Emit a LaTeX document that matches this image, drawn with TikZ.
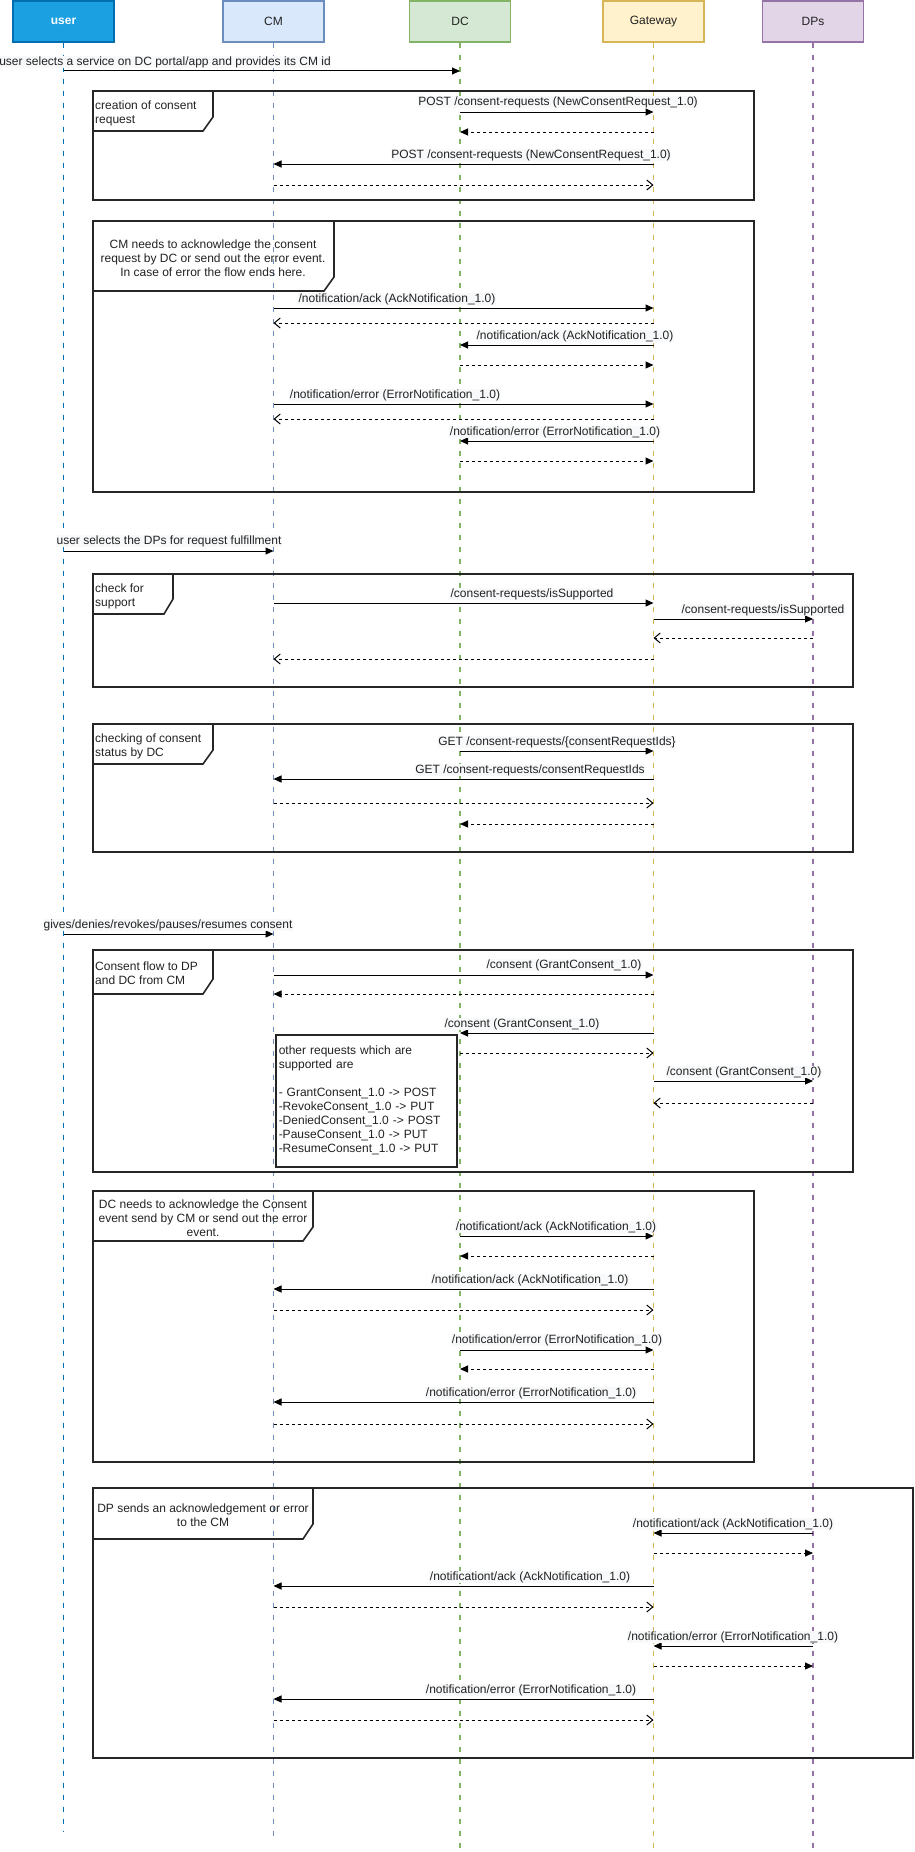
\documentclass[tikz,border=0pt]{standalone}
\usepackage{fontspec}
\setmainfont{Liberation Sans}
\usetikzlibrary{arrows.meta}

\definecolor{userfill}{HTML}{1BA1E2}
\definecolor{userline}{HTML}{006EAF}
\definecolor{cmfill}{HTML}{DAE8FC}
\definecolor{cmline}{HTML}{6C8EBF}
\definecolor{dcfill}{HTML}{D5E8D4}
\definecolor{dcline}{HTML}{82B366}
\definecolor{gwfill}{HTML}{FFF2CC}
\definecolor{gwline}{HTML}{D6B656}
\definecolor{dpfill}{HTML}{E1D5E7}
\definecolor{dpline}{HTML}{9673A6}
\definecolor{labelbg}{HTML}{F8F9FA}
\definecolor{ink}{HTML}{222222}

% one message between two lifelines at height #4
\newcommand\sqmsg[4]{\draw[#1] (#2 |- 0,#4) -- (#3 |- 0,#4);}
% one sequence frame: left, top, right, bottom, tab right, tab cut x, tab cut y, tab bottom
\newcommand\sqframe[8]{%
  \draw[frameline] (#1,#2) rectangle (#3,#4);
  \draw[frameline] (#1,#8) -- (#6,#8) -- (#5,#7) -- (#5,#2);}

\begin{document}
\begin{tikzpicture}[x=1pt,y=-1pt,
  txt/.style={font=\fontsize{12}{14}\selectfont, text=ink},
  head/.style={draw, line width=1.2pt, minimum width=101pt, minimum height=41pt, inner sep=0pt, txt},
  life/.style={line width=1.6pt, dash pattern=on 5pt off 7pt},
  call/.style={line width=1pt, -{Triangle[length=8pt,width=7pt]}},
  reply/.style={line width=1pt, dash pattern=on 3pt off 3pt, -{Straight Barb[length=6pt,width=10pt]}},
  replyb/.style={line width=1pt, dash pattern=on 3pt off 3pt, -{Triangle[length=8pt,width=7pt]}},
  lbl/.style={txt, fill=labelbg, inner sep=0.5pt, text height=9pt, text depth=2.5pt},
  frameline/.style={line width=1.6pt, black!85},
  tab/.style={txt, inner sep=0pt},
]
\useasboundingbox (0,0) rectangle (915,1852);

% participants
\node[head, fill=userfill, draw=userline, text=white, font=\fontsize{12}{14}\selectfont\bfseries] (user) at (63.5,21.5) {user};
\node[head, fill=cmfill, draw=cmline] (cm) at (273.5,21.5) {CM};
\node[head, fill=dcfill, draw=dcline] (dc) at (460,21.5) {DC};
\node[head, fill=gwfill, draw=gwline] (gw) at (653.5,21.5) {Gateway};
\node[head, fill=dpfill, draw=dpline] (dp) at (813,21.5) {DPs};

% lifelines
\coordinate (userend) at (user |- 0,1831);
\coordinate (cmend) at (cm |- 0,1836);
\coordinate (dcend) at (dc |- 0,1852);
\coordinate (gwend) at (gw |- 0,1852);
\coordinate (dpend) at (dp |- 0,1852);
\draw[life, userline] (user.south) -- (userend);
\draw[life, cmline] (cm.south) -- (cmend);
\draw[life, dcline] (dc.south) -- (dcend);
\draw[life, gwline] (gw.south) -- (gwend);
\draw[life, dpline] (dp.south) -- (dpend);

% frames
\sqframe{93}{91}{754}{200}{213}{203}{117}{131}
\node[tab, anchor=west, align=left] (f1) at (95,113) {creation of consent\\request};

\sqframe{93}{221}{754}{492}{334}{324}{277}{291}
\node[tab, align=center] (f2) at (213,258) {CM needs to acknowledge the consent\\request by DC or send out the error event.\\In case of error the flow ends here.};

\sqframe{93}{574}{853}{687}{173}{164}{599}{614}
\node[tab, anchor=west, align=left] (f3) at (95,596) {check for\\support};

\sqframe{93}{724}{853}{852}{213}{203}{750}{764}
\node[tab, anchor=west, align=left] (f4) at (95,746) {checking of consent\\status by DC};

\sqframe{93}{950}{853}{1172}{213}{203}{979}{994}
\node[tab, anchor=west, align=left] (f5) at (95,973) {Consent flow to DP\\and DC from CM};

\sqframe{93}{1191}{754}{1462}{313}{303}{1227}{1241}
\node[tab, align=center] (f6) at (203,1218) {DC needs to acknowledge the Consent\\event send by CM or send out the error\\event.};

\sqframe{93}{1488}{913}{1758}{313}{303}{1524}{1539}
\node[tab, align=center] (f7) at (203,1515) {DP sends an acknowledgement or error\\to the CM};

% note on the supported consent requests
\node[draw=black!85, line width=1.5pt, fill=white, txt, align=left, text width=175pt,
      minimum height=132pt, inner xsep=3pt, inner ysep=0pt, anchor=north west] (note) at (275,1034)
  {other requests which are\\supported are\\[14pt]- GrantConsent\_1.0 -> POST\\-RevokeConsent\_1.0 -> PUT\\-DeniedConsent\_1.0 -> POST\\-PauseConsent\_1.0 -> PUT\\-ResumeConsent\_1.0 -> PUT};

% opening request
\sqmsg{call}{user}{dc}{71}
\node[lbl] (m1) at (165,62) {user selects a service on DC portal/app and provides its CM id};

% creation of consent request
\sqmsg{call}{dc}{gw}{112}
\node[lbl] (m2) at (558,102) {POST /consent-requests (NewConsentRequest\_1.0)};
\sqmsg{replyb}{gw}{dc}{132}
\sqmsg{call}{gw}{cm}{164}
\node[lbl] (m3) at (531,155) {POST /consent-requests (NewConsentRequest\_1.0)};
\sqmsg{reply}{cm}{gw}{185}

% acknowledgement by CM
\sqmsg{call}{cm}{gw}{308}
\node[lbl] (m4) at (397,299) {/notification/ack (AckNotification\_1.0)};
\sqmsg{reply}{gw}{cm}{323}
\sqmsg{call}{gw}{dc}{345}
\node[lbl] (m5) at (575,336) {/notification/ack (AckNotification\_1.0)};
\sqmsg{replyb}{dc}{gw}{365}
\sqmsg{call}{cm}{gw}{404}
\node[lbl] (m6) at (395,395) {/notification/error (ErrorNotification\_1.0)};
\sqmsg{reply}{gw}{cm}{419}
\sqmsg{call}{gw}{dc}{441}
\node[lbl] (m7) at (555,432) {/notification/error (ErrorNotification\_1.0)};
\sqmsg{replyb}{dc}{gw}{461}

% DP selection
\sqmsg{call}{user}{cm}{551}
\node[lbl] (m8) at (169,541) {user selects the DPs for request fulfillment};

% check for support
\sqmsg{call}{cm}{gw}{603}
\node[lbl] (m9) at (532,594) {/consent-requests/isSupported};
\sqmsg{call}{gw}{dp}{619}
\node[lbl] (m10) at (763,610) {/consent-requests/isSupported};
\sqmsg{reply}{dp}{gw}{638}
\sqmsg{reply}{gw}{cm}{659}

% consent status
\sqmsg{call}{dc}{gw}{751}
\node[lbl] (m11) at (557,742) {GET /consent-requests/\{consentRequestIds\}};
\sqmsg{call}{gw}{cm}{779}
\node[lbl] (m12) at (530,770) {GET /consent-requests/consentRequestIds};
\sqmsg{reply}{cm}{gw}{803}
\sqmsg{replyb}{gw}{dc}{824}

% consent decision
\sqmsg{call}{user}{cm}{934}
\node[lbl] (m13) at (168,925) {gives/denies/revokes/pauses/resumes consent};

% consent flow
\sqmsg{call}{cm}{gw}{975}
\node[lbl] (m14) at (564,965) {/consent (GrantConsent\_1.0)};
\sqmsg{replyb}{gw}{cm}{994}
\sqmsg{call}{gw}{dc}{1033}
\node[lbl] (m15) at (522,1024) {/consent (GrantConsent\_1.0)};
\sqmsg{reply}{dc}{gw}{1053}
\sqmsg{call}{gw}{dp}{1081}
\node[lbl] (m16) at (744,1072) {/consent (GrantConsent\_1.0)};
\sqmsg{reply}{dp}{gw}{1103}

% acknowledgement by DC
\sqmsg{call}{dc}{gw}{1236}
\node[lbl] (m17) at (556,1227) {/notificationt/ack (AckNotification\_1.0)};
\sqmsg{replyb}{gw}{dc}{1256}
\sqmsg{call}{gw}{cm}{1289}
\node[lbl] (m18) at (530,1280) {/notification/ack (AckNotification\_1.0)};
\sqmsg{reply}{cm}{gw}{1310}
\sqmsg{call}{dc}{gw}{1350}
\node[lbl] (m19) at (557,1340) {/notification/error (ErrorNotification\_1.0)};
\sqmsg{replyb}{gw}{dc}{1369}
\sqmsg{call}{gw}{cm}{1402}
\node[lbl] (m20) at (531,1393) {/notification/error (ErrorNotification\_1.0)};
\sqmsg{reply}{cm}{gw}{1424}

% acknowledgement by DP
\sqmsg{call}{dp}{gw}{1533}
\node[lbl] (m21) at (733,1524) {/notificationt/ack (AckNotification\_1.0)};
\sqmsg{replyb}{gw}{dp}{1553}
\sqmsg{call}{gw}{cm}{1586}
\node[lbl] (m22) at (530,1577) {/notificationt/ack (AckNotification\_1.0)};
\sqmsg{reply}{cm}{gw}{1607}
\sqmsg{call}{dp}{gw}{1646}
\node[lbl] (m23) at (733,1637) {/notification/error (ErrorNotification\_1.0)};
\sqmsg{replyb}{gw}{dp}{1666}
\sqmsg{call}{gw}{cm}{1699}
\node[lbl] (m24) at (531,1690) {/notification/error (ErrorNotification\_1.0)};
\sqmsg{reply}{cm}{gw}{1720}

\end{tikzpicture}
\end{document}
